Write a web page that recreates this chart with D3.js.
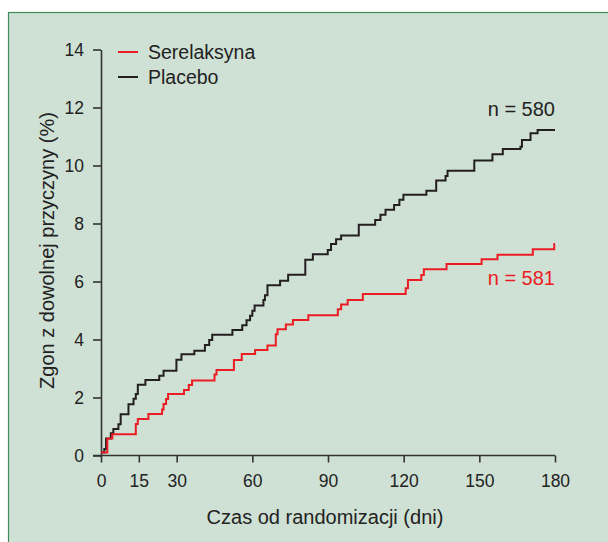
<!DOCTYPE html>
<html>
<head>
<meta charset="utf-8">
<script src="https://cdnjs.cloudflare.com/ajax/libs/d3/7.8.5/d3.min.js"></script>
<style>
  body { margin: 0; background: #fff; }
  text { font-family: "Liberation Sans", Arial, Helvetica, sans-serif; fill: #222; }
</style>
</head>
<body>
<div id="chart"></div>
<script>
// Kaplan-Meier steps: day of event, cumulative % after it
var placeboDays = [0, 1.3, 2.0, 3.9, 4.9, 6.9, 7.8, 10.9, 12.9, 13.8, 14.6, 17.6, 23.1, 24.8, 29.9, 31.9, 37.0, 41.2, 42.9, 44.1, 52.1, 56.0, 57.7, 59.1, 60.0, 60.9, 64.4, 65.0, 66.0, 71.0, 74.2, 81.0, 84.0, 89.9, 91.2, 93.2, 95.2, 102.2, 108.7, 110.8, 112.8, 116.2, 118.3, 119.9, 129.0, 132.9, 136.6, 137.4, 148.0, 155.2, 159.3, 166.3, 166.9, 170.3, 173.1, 180];
var placeboPct = [0.1, 0.22, 0.59, 0.77, 0.91, 1.08, 1.42, 1.77, 1.96, 2.12, 2.44, 2.6, 2.75, 2.92, 3.30, 3.49, 3.61, 3.81, 3.98, 4.16, 4.33, 4.49, 4.66, 4.82, 4.99, 5.17, 5.36, 5.53, 5.87, 6.03, 6.23, 6.75, 6.94, 7.09, 7.29, 7.46, 7.59, 7.96, 8.12, 8.30, 8.47, 8.64, 8.82, 8.99, 9.13, 9.48, 9.64, 9.82, 10.17, 10.39, 10.57, 10.65, 10.88, 11.11, 11.22, 11.22];

var serelDays = [0, 2.5, 4.5, 13.8, 14.6, 18.8, 24.2, 24.8, 25.8, 26.6, 32.9, 34.8, 36.1, 45.0, 45.8, 52.7, 55.8, 61.1, 66.0, 69.3, 70.0, 73.3, 76.1, 82.2, 93.9, 95.2, 97.8, 103.8, 120.8, 121.7, 127.0, 128.0, 137.0, 150.9, 157.2, 171.2, 179.7, 180];
var serelPct = [0.1, 0.59, 0.73, 1.09, 1.26, 1.43, 1.59, 1.78, 1.95, 2.12, 2.26, 2.43, 2.59, 2.79, 2.95, 3.29, 3.50, 3.64, 3.79, 4.18, 4.35, 4.52, 4.67, 4.84, 5.04, 5.21, 5.36, 5.57, 5.77, 6.05, 6.22, 6.42, 6.60, 6.77, 6.92, 7.11, 7.29, 7.29];

var xTicks = [0, 15, 30, 60, 90, 120, 150, 180];
var yTicks = [0, 2, 4, 6, 8, 10, 12, 14];

var seriesNames = ["Serelaksyna", "Placebo"];
var seriesN = ["n = 581", "n = 580"];
var seriesColors = ["#ec1c24", "#231f20"];

var W = 608, H = 542;

var svg = d3.select("#chart")
    .append("svg")
    .attr("width", W)
    .attr("height", H);

// tinted panel, border only on top and left (runs off the picture)
svg.append("rect")
    .attr("x", 8.5).attr("y", 12.5)
    .attr("width", W + 20).attr("height", H + 20)
    .attr("fill", "#cfe0d4")
    .attr("stroke", "#3f8a5c")
    .attr("stroke-width", 1.2);

var margin = {top: 49.5, left: 101, right: 53, bottom: 86.5},
    width = W - margin.left - margin.right,
    height = H - margin.top - margin.bottom,
    g = svg.append("g").attr("transform", "translate(" + margin.left + "," + margin.top + ")");

var x = d3.scaleLinear().domain([0, 180]).range([0, width]);
var y = d3.scaleLinear().domain([0, 14]).range([height, 0]);

var xAxis = d3.axisBottom(x)
    .tickValues(xTicks)
    .tickSizeOuter(0)
    .tickSizeInner(7)
    .tickPadding(12);

var yAxis = d3.axisLeft(y)
    .tickValues(yTicks)
    .tickSizeOuter(0)
    .tickSizeInner(8)
    .tickPadding(9);

var gx = g.append("g")
    .attr("transform", "translate(0," + height + ")")
    .call(xAxis);
gx.select(".domain").attr("d", "M-8,0H" + width);

var gy = g.append("g").call(yAxis);

g.selectAll(".domain, .tick line")
    .attr("stroke", "#333")
    .attr("stroke-width", 1.6);
gx.selectAll(".tick text").attr("font-size", 17.5).attr("fill", "#222");
gy.selectAll(".tick text").attr("font-size", 17.5).attr("fill", "#222");

var line = d3.line()
    .curve(d3.curveStepAfter)
    .x(function(d) { return x(d[0]); })
    .y(function(d) { return y(d[1]); });

var placebo = d3.zip(placeboDays, placeboPct);
var serel = d3.zip(serelDays, serelPct);

g.append("path")
    .datum(placebo)
    .attr("fill", "none")
    .attr("stroke", seriesColors[1])
    .attr("stroke-width", 2)
    .attr("d", line);

g.append("path")
    .datum(serel)
    .attr("fill", "none")
    .attr("stroke", seriesColors[0])
    .attr("stroke-width", 2)
    .attr("d", line);

// n labels
g.append("text")
    .attr("x", x(180))
    .attr("y", y(12) + 8)
    .attr("text-anchor", "end")
    .attr("font-size", 20)
    .style("fill", seriesColors[1])
    .text(seriesN[1]);

g.append("text")
    .attr("x", x(180))
    .attr("y", y(6) + 3)
    .attr("text-anchor", "end")
    .attr("font-size", 20)
    .style("fill", seriesColors[0])
    .text(seriesN[0]);

// legend
var legend = svg.append("g").attr("transform", "translate(118,52)");
seriesNames.forEach(function(name, i) {
  var row = legend.append("g").attr("transform", "translate(0," + (i * 25) + ")");
  row.append("line")
      .attr("x1", 0).attr("x2", 20)
      .attr("stroke", seriesColors[i])
      .attr("stroke-width", 2);
  row.append("text")
      .attr("x", 30)
      .attr("dy", "0.35em")
      .attr("font-size", 19.5)
      .text(name);
});

// axis titles
svg.append("text")
    .attr("x", margin.left + x(90) - 3)
    .attr("y", 524)
    .attr("text-anchor", "middle")
    .attr("font-size", 20)
    .text("Czas od randomizacji (dni)");

svg.append("text")
    .attr("transform", "translate(54," + (margin.top + y(7) - 2) + ") rotate(-90)")
    .attr("text-anchor", "middle")
    .attr("font-size", 20)
    .text("Zgon z dowolnej przyczyny (%)");
</script>
</body>
</html>
